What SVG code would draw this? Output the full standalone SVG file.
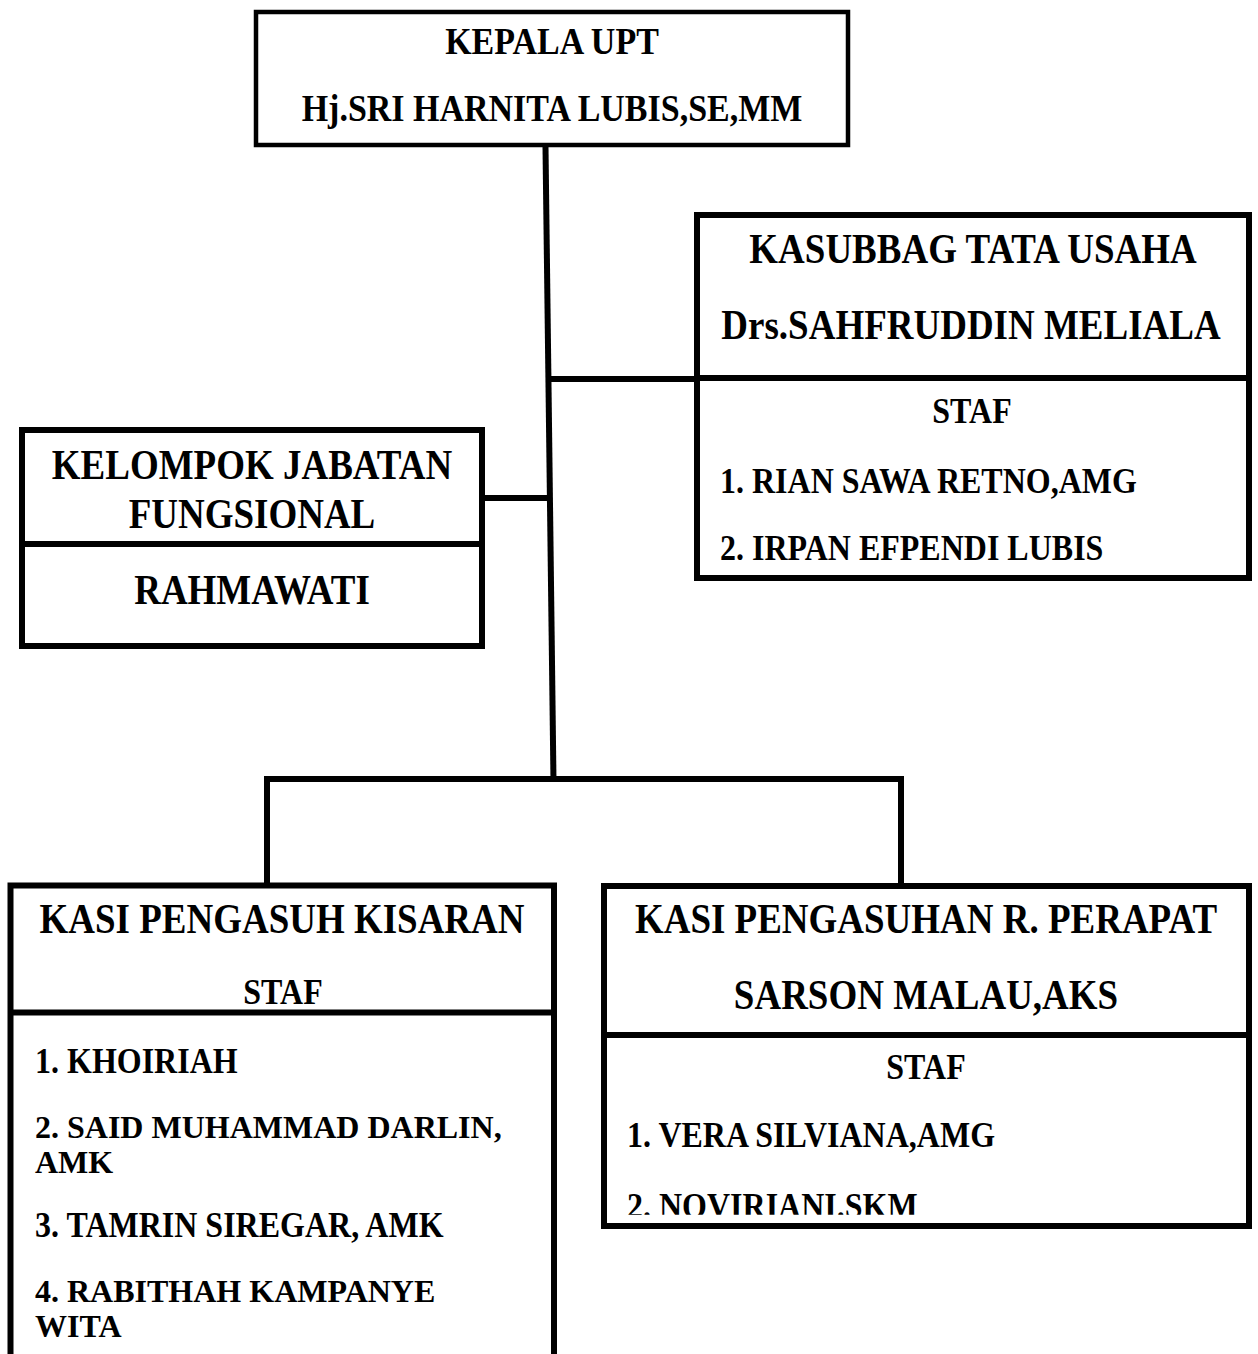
<svg xmlns="http://www.w3.org/2000/svg" width="1258" height="1354" viewBox="0 0 1258 1354">
<style>
.box{fill:#fff;stroke:#000;stroke-width:6}
.div{stroke:#000;stroke-width:6}
.con{stroke:#000;stroke-width:6;fill:none}
text{font-family:"Liberation Serif","Times New Roman",serif;font-weight:bold;fill:#000}
.h{font-size:37px}
.h34{font-size:34px}
.l{font-size:32px}
.c{text-anchor:middle}
</style>
<defs>
<clipPath id="clipNov"><rect x="-30" y="-40" width="620" height="37"/></clipPath>
</defs>
<rect width="1258" height="1354" fill="#fff"/>
<g id="connectors">
<line class="con" x1="545.5" y1="147" x2="553.5" y2="782"/>
<line class="con" x1="548" y1="379" x2="697" y2="379"/>
<line class="con" x1="482" y1="498" x2="552" y2="498"/>
<polyline class="con" points="267,885 267,779 901,779 901,886"/>
</g>
<g id="kepala">
<rect x="256" y="12" width="592" height="133" fill="#fff" stroke="#000" stroke-width="4.5"/>
<text class="h34 c" transform="translate(552,54) scale(1,1.12)">KEPALA UPT</text>
<text class="h34 c" transform="translate(552,121) scale(1,1.12)">Hj.SRI HARNITA LUBIS,SE,MM</text>
</g>
<g id="kasubbag">
<rect class="box" x="697" y="215" width="552" height="363"/>
<line class="div" x1="697" y1="378" x2="1249" y2="378"/>
<text class="h c" transform="translate(973,263) scale(1,1.12)">KASUBBAG TATA USAHA</text>
<text class="h c" transform="translate(971,339) scale(1,1.12)">Drs.SAHFRUDDIN MELIALA</text>
<text class="l c" transform="translate(972,423) scale(1,1.12)">STAF</text>
<text class="l" transform="translate(720,493) scale(1,1.12)">1. RIAN SAWA RETNO,AMG</text>
<text class="l" transform="translate(720,560) scale(1,1.12)">2. IRPAN EFPENDI LUBIS</text>
</g>
<g id="kelompok">
<rect class="box" x="22" y="430" width="460" height="216"/>
<line class="div" x1="22" y1="544" x2="482" y2="544"/>
<text class="h c" transform="translate(252,479) scale(1,1.12)">KELOMPOK JABATAN</text>
<text class="h c" transform="translate(252,528) scale(1,1.12)">FUNGSIONAL</text>
<text class="h c" transform="translate(252,604) scale(1,1.12)">RAHMAWATI</text>
</g>
<g id="kasi-kisaran">
<rect class="box" x="10.5" y="885.5" width="543.5" height="480"/>
<line class="div" x1="10.5" y1="1012.5" x2="554" y2="1012.5"/>
<text class="h c" transform="translate(282,933) scale(1,1.12)">KASI PENGASUH KISARAN</text>
<text class="l c" transform="translate(283,1004) scale(1,1.12)">STAF</text>
<text class="l" transform="translate(35,1073) scale(1,1.12)">1. KHOIRIAH</text>
<text class="l" x="35" y="1138">2. SAID MUHAMMAD DARLIN,</text>
<text class="l" x="35" y="1173">AMK</text>
<text class="l" transform="translate(35,1237) scale(1,1.12)">3. TAMRIN SIREGAR, AMK</text>
<text class="l" x="35" y="1302">4. RABITHAH KAMPANYE</text>
<text class="l" x="35" y="1337">WITA</text>
</g>
<g id="kasi-perapat">
<rect class="box" x="604" y="886" width="645" height="340"/>
<line class="div" x1="604" y1="1035" x2="1249" y2="1035"/>
<text class="h c" transform="translate(926,933) scale(1,1.12)">KASI PENGASUHAN R. PERAPAT</text>
<text class="h c" transform="translate(926,1009) scale(1,1.12)">SARSON MALAU,AKS</text>
<text class="l c" transform="translate(926,1079) scale(1,1.12)">STAF</text>
<text class="l" transform="translate(627,1147) scale(1,1.12)">1. VERA SILVIANA,AMG</text>
<text class="l" transform="translate(627,1218) scale(1,1.12)" clip-path="url(#clipNov)">2. NOVIRIANI.SKM</text>
</g>
</svg>
